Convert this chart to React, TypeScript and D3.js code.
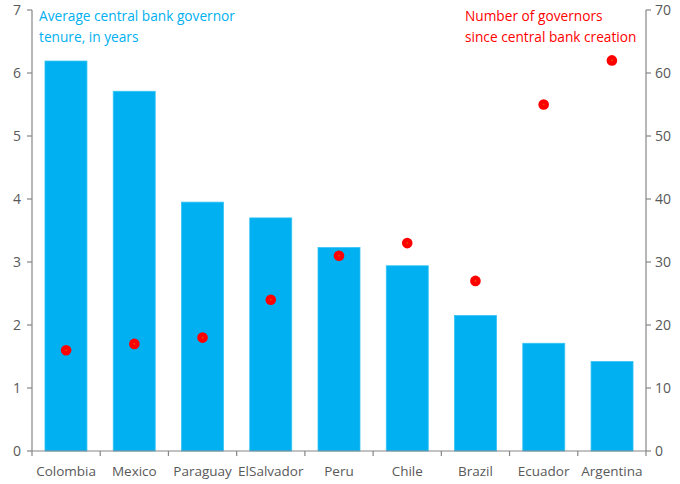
import React from "react";
import * as d3 from "d3";

const categories = ["Colombia", "Mexico", "Paraguay", "ElSalvador", "Peru", "Chile", "Brazil", "Ecuador", "Argentina"];
const tenure = [6.19, 5.71, 3.95, 3.7, 3.23, 2.94, 2.15, 1.71, 1.42];
const governors = [16, 17, 18, 24, 31, 33, 27, 55, 62];
const leftTicks = [0, 1, 2, 3, 4, 5, 6, 7];
const rightTicks = [0, 10, 20, 30, 40, 50, 60, 70];

const W = 680, H = 484;
const left = 32, right = 646, top = 10, bottom = 451;
const axisColor = "#868686";
const labelColor = "#595959";
const font = "'Open Sans', 'Liberation Sans', sans-serif";

export default function App() {
  const x = d3.scaleBand<string>().domain(categories).range([left, right]).paddingInner(0.385).paddingOuter(0.19);
  const xb = d3.scaleBand<string>().domain(categories).range([left, right]);
  const yL = d3.scaleLinear().domain([0, 7]).range([bottom, top]);
  const yR = d3.scaleLinear().domain([0, 70]).range([bottom, top]);
  return (
    <svg width={W} height={H} style={{ position: "absolute", left: 0, top: 0, background: "#fff" }} fontFamily={font}>
      {categories.map((c, i) => (
        <rect key={c} x={x(c)} y={yL(tenure[i])} width={x.bandwidth()} height={bottom - yL(tenure[i])} fill="#00B0F0" stroke="#33C3F5" strokeWidth={0.8} />
      ))}
      {categories.map((c, i) => (
        <g key={c}>
          <circle cx={xb(c)! + xb.bandwidth() / 2} cy={yR(governors[i])} r={5.3} fill="#FF0000" />
          <circle cx={xb(c)! + xb.bandwidth() / 2} cy={yR(governors[i])} r={0.8} fill="#E06000" />
        </g>
      ))}
      <line x1={left} x2={left} y1={top} y2={bottom} stroke={axisColor} strokeWidth={1.2} />
      {leftTicks.map(t => (
        <g key={t}>
          <line x1={left - 5} x2={left} y1={yL(t)} y2={yL(t)} stroke={axisColor} strokeWidth={1.2} />
          <text x={left - 11} y={yL(t)} dy="0.35em" textAnchor="end" fontSize={14} fill={labelColor}>{t}</text>
        </g>
      ))}
      <line x1={right} x2={right} y1={top} y2={bottom} stroke={axisColor} strokeWidth={1.2} />
      {rightTicks.map(t => (
        <g key={t}>
          <line x1={right} x2={right + 5} y1={yR(t)} y2={yR(t)} stroke={axisColor} strokeWidth={1.2} />
          <text x={right + 9} y={yR(t)} dy="0.35em" textAnchor="start" fontSize={14} fill={labelColor}>{t}</text>
        </g>
      ))}
      <line x1={left} x2={right} y1={bottom} y2={bottom} stroke={axisColor} strokeWidth={1.2} />
      {[...categories.map(c => xb(c)!), right].map((v, i) => (
        <line key={i} x1={v} x2={v} y1={bottom} y2={bottom + 5} stroke={axisColor} strokeWidth={1.2} />
      ))}
      {categories.map(c => (
        <text key={c} x={xb(c)! + xb.bandwidth() / 2} y={471} dy="0.35em" textAnchor="middle" fontSize={13.5} fill={labelColor}>{c}</text>
      ))}
      <text x={39} y={21} fontSize={13.7} fill="#00B0F0">Average central bank governor</text>
      <text x={39} y={42} fontSize={13.7} fill="#00B0F0">tenure, in years</text>
      <text x={465} y={21} fontSize={13.7} fill="#FF0000">Number of governors</text>
      <text x={465} y={42} fontSize={13.7} fill="#FF0000">since central bank creation</text>
    </svg>
  );
}
